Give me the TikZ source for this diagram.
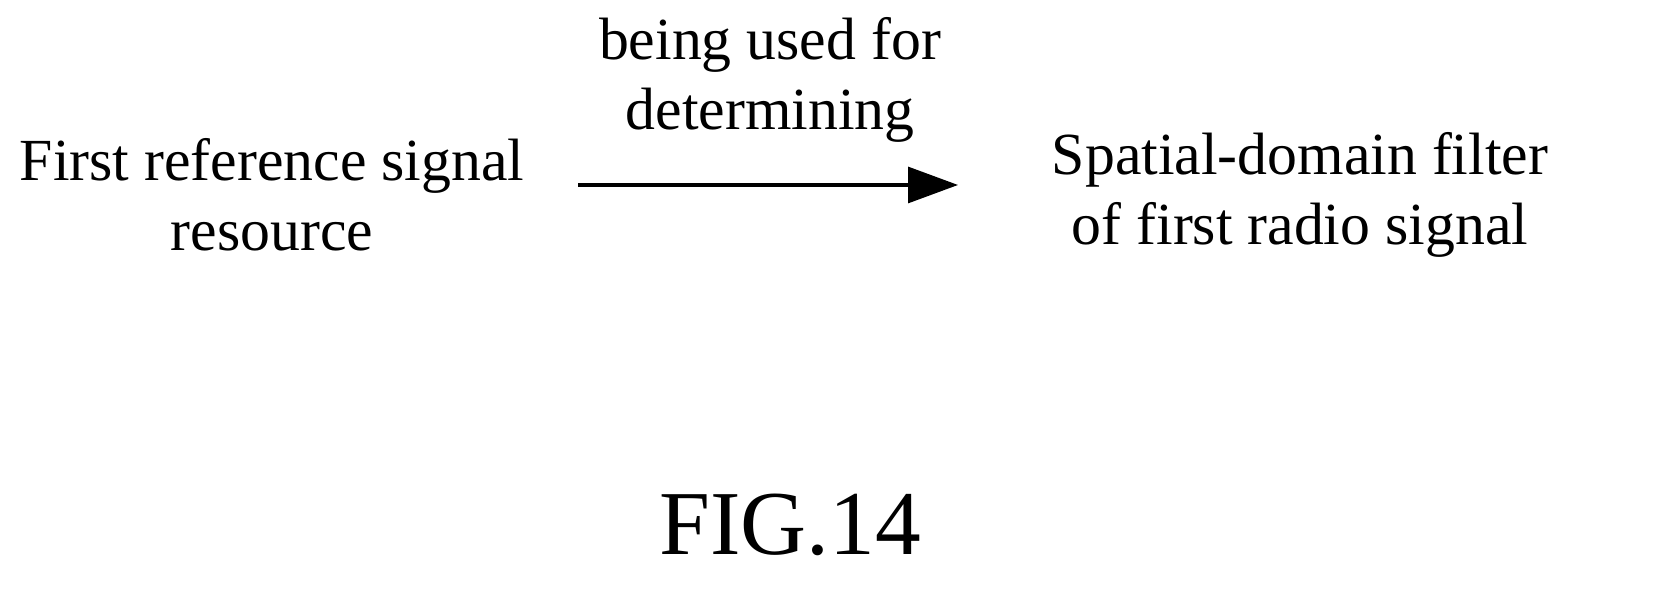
\documentclass[tikz,border=0pt]{standalone}
\usepackage{fontspec}
\setmainfont{Liberation Serif}
\usetikzlibrary{arrows.meta,positioning}

\begin{document}
\begin{tikzpicture}[
    x=1cm, y=1cm,
    label/.style={align=center, font=\fontsize{17}{20}\selectfont, inner sep=0pt},
    arrow/.style={-{Triangle[length=5mm,width=3.6mm]}, line width=0.9pt}
]
\useasboundingbox (0,0) rectangle (16.65,6.10);

% Source and target
\node[label] (ref) at (2.72, 4.15) {First reference signal\\resource};
\node[label] (filter) at (13.0, 4.15) {Spatial-domain filter\\of first radio signal};

% Relation
\coordinate (start) at (5.78, 4.25);
\coordinate (end) at (9.58, 4.25);
\draw[arrow] (start) -- (end);
\node[label] (rel) at (7.70, 5.30) {being used for\\determining};

% Caption
\node[font=\fontsize{26}{30}\selectfont] (fig) at (7.90, 0.85) {FIG.14};

\end{tikzpicture}
\end{document}
